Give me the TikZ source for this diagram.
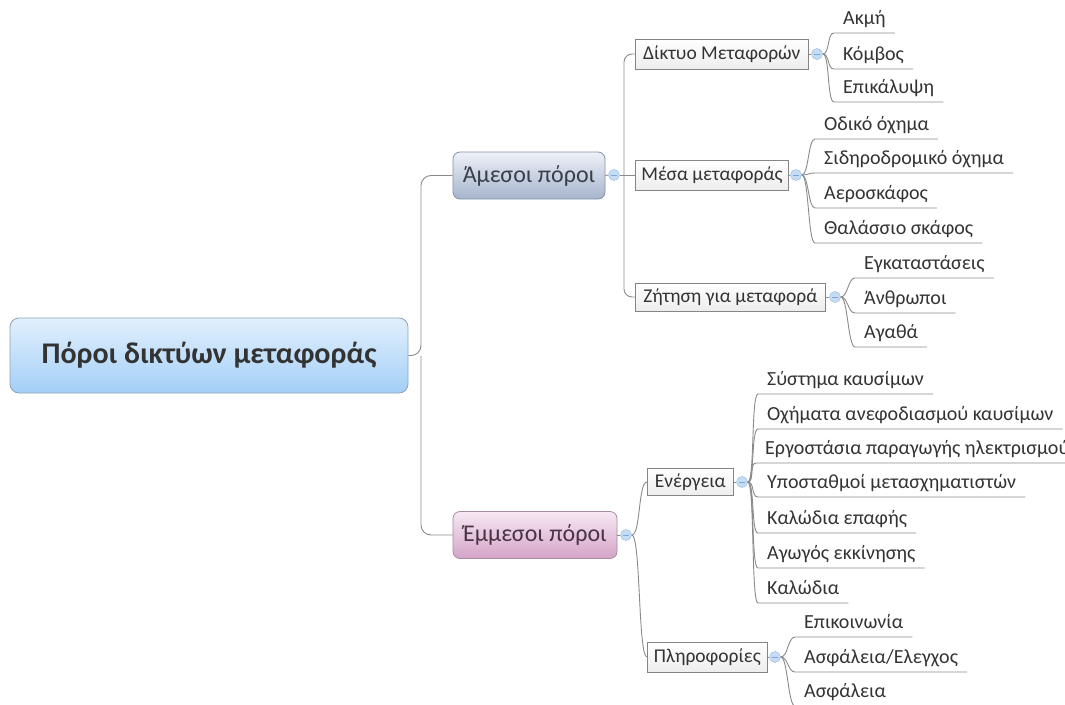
\documentclass[tikz,border=0pt]{standalone}
\usepackage{fontspec}
\setmainfont{Carlito}
\usetikzlibrary{calc}
\definecolor{linegray}{HTML}{8A8A8A}
\definecolor{boxborder}{HTML}{858585}
\definecolor{textdark}{HTML}{333333}
\definecolor{rootTop}{HTML}{E2F0FD}
\definecolor{rootBot}{HTML}{A3CFF7}
\definecolor{rootBorder}{HTML}{8FA3B8}
\definecolor{amTop}{HTML}{EEF1F7}
\definecolor{amBot}{HTML}{A6B4CD}
\definecolor{amBorder}{HTML}{8391A8}
\definecolor{amText}{HTML}{3A3F4C}
\definecolor{emTop}{HTML}{F7E9F3}
\definecolor{emBot}{HTML}{D4A3C7}
\definecolor{emBorder}{HTML}{A88C9F}
\definecolor{emText}{HTML}{4A3446}
\definecolor{togFill}{HTML}{C6DCF3}
\definecolor{togDraw}{HTML}{A4C4E6}
\definecolor{togMinus}{HTML}{7FA6D2}
\begin{document}
\begin{tikzpicture}[x=1pt,y=-1pt,
  conn/.style={draw=linegray, line width=0.9pt},
  rootbox/.style={rounded corners=9, draw=rootBorder, line width=0.8pt,
    top color=rootTop, bottom color=rootBot,
    minimum width=398, minimum height=75,
    font=\fontsize{30}{34}\selectfont\bfseries, text=textdark},
  mainbox/.style={rounded corners=7, line width=0.8pt, minimum height=47,
    font=\fontsize{24}{28}\selectfont},
  subbox/.style={anchor=west, draw=boxborder, line width=0.7pt,
    top color=white, bottom color=black!7,
    minimum height=30, inner xsep=6,
    font=\fontsize{19.5}{23}\selectfont, text=textdark},
  leaf/.style={anchor=south west, inner xsep=9, inner ysep=6,
    text height=0.72em, text depth=0.22em,
    font=\fontsize{20}{24}\selectfont, text=textdark},
  toggle/.style={circle, minimum size=11, inner sep=0pt,
    fill=togFill, draw=togDraw, line width=0.6pt,
    path picture={\draw[togMinus, line width=0.7pt]
      ([xshift=-2.8]path picture bounding box.center) --
      ([xshift=2.8]path picture bounding box.center);}},
  leafconn/.style={conn},
]
\useasboundingbox (0,0) rectangle (1065,704);
\clip (0,0) rectangle (1065,704);

% central topic and the two main branches
\node[rootbox] (root) at (209,355.5) {Πόροι δικτύων μεταφοράς};
\node[mainbox, draw=amBorder, top color=amTop, bottom color=amBot,
      text=amText, minimum width=152] (am) at (529,175.5) {Άμεσοι πόροι};
\node[mainbox, draw=emBorder, top color=emTop, bottom color=emBot,
      text=emText, minimum width=164] (em) at (535,535) {Έμμεσοι πόροι};
\node[toggle] (tam) at (614,175) {};
\node[toggle] (tem) at (626,535) {};

\coordinate (rj) at (421,355.5);
\draw[conn, rounded corners=10] (root.east) -- (rj) |- (am.west);
\draw[conn, rounded corners=10] (rj) |- (em.west);
\draw[conn] (am.east) -- (tam.west);
\draw[conn] (em.east) -- (tem.west);

% direct resources
\node[subbox, minimum width=173] (d1) at (635,54) {Δίκτυο Μεταφορών};
\node[subbox, minimum width=153] (d2) at (635,175) {Μέσα μεταφοράς};
\node[subbox, minimum width=190, minimum height=28] (d3) at (635,297) {Ζήτηση για μεταφορά};
\node[toggle] (td1) at (817,54) {};
\node[toggle] (td2) at (796,175) {};
\node[toggle] (td3) at (835,297) {};
\draw[conn] (d1.east) -- (td1.west);
\draw[conn] (d2.east) -- (td2.west);
\draw[conn] (d3.east) -- (td3.west);

\coordinate (aj) at (624,175);
\draw[conn] (tam.east) -- (d2.west);
\draw[conn, rounded corners=8] (aj) |- (d1.west);
\draw[conn, rounded corners=8] (aj) |- (d3.west);

% indirect resources
\node[subbox, minimum width=86, minimum height=27] (e1) at (647,482) {Ενέργεια};
\node[subbox, minimum width=120] (e2) at (647,657) {Πληροφορίες};
\node[toggle] (te1) at (742,482) {};
\node[toggle] (te2) at (775,657) {};
\draw[conn] (e1.east) -- (te1.west);
\draw[conn] (e2.east) -- (te2.west);
\draw[conn] (tem.east) .. controls +(9,0) and +(-9,0) .. (e1.west);
\draw[conn] (tem.east) .. controls +(9,0) and +(-9,0) .. (e2.west);

% leaf topics: name / x / underline y / parent toggle / text
\foreach \nm/\x/\y/\pt/\txt in {
  a1/834/33/td1/Ακμή, a2/834/69/td1/Κόμβος, a3/834/102/td1/Επικάλυψη,
  b1/815/139/td2/Οδικό όχημα, b2/815/173/td2/Σιδηροδρομικό όχημα,
  b3/815/208/td2/Αεροσκάφος, b4/815/243/td2/Θαλάσσιο σκάφος,
  c1/855/278/td3/Εγκαταστάσεις, c2/855/313/td3/Άνθρωποι, c3/855/347/td3/Αγαθά,
  f1/758/394/te1/Σύστημα καυσίμων, f2/758/429/te1/Οχήματα ανεφοδιασμού καυσίμων,
  f3/756/463/te1/Εργοστάσια παραγωγής ηλεκτρισμού,
  f4/758/497/te1/Υποσταθμοί μετασχηματιστών, f5/758/533/te1/Καλώδια επαφής,
  f6/758/568/te1/Αγωγός εκκίνησης, f7/758/603/te1/Καλώδια,
  g1/795/637/te2/Επικοινωνία, g3/795/706/te2/Ασφάλεια}
{
  \node[leaf] (\nm) at (\x,\y) {\txt};
  \draw[leafconn] (\pt.east) .. controls +(7,0) and +(-7,0) .. (\nm.south west)
    -- (\nm.south east);
}
\node[leaf] (g2) at (795,672) {Ασφάλεια/Ελεγχος};
\draw[leafconn] (te2.east) .. controls +(7,0) and +(-7,0) .. (g2.south west)
  -- (g2.south east);
\end{tikzpicture}
\end{document}
